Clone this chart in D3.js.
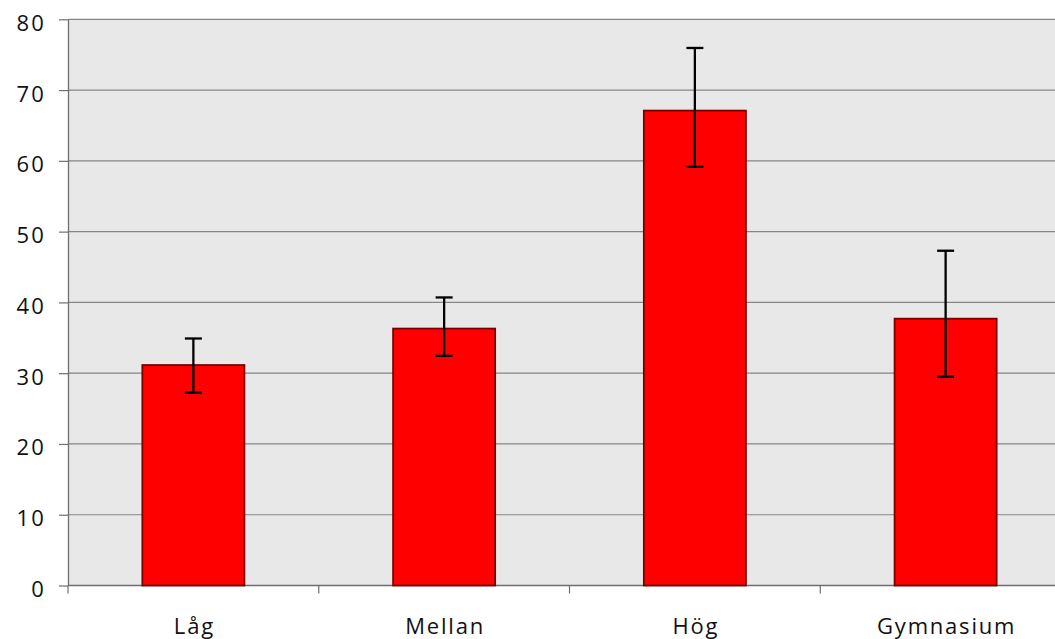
<!DOCTYPE html>
<html>
<head>
<meta charset="utf-8">
<script src="https://cdn.jsdelivr.net/npm/d3@7"></script>
<style>
    body { margin: 0; background: #fff; }
    .axis text { font-family: "Open Sans", sans-serif; fill: #111; }
    .y.axis text { font-size: 22px; letter-spacing: 2.2px; }
    .x.axis text { font-size: 22px; letter-spacing: 1.8px; }
</style>
</head>
<body>
<svg class="chart"></svg>
<script>
var categories = ["Låg", "Mellan", "Hög", "Gymnasium"];
var means = [31.15, 36.3, 67.1, 37.7];
var upper = [34.9, 40.7, 75.95, 47.3];
var lower = [27.25, 32.45, 59.15, 29.5];
var yTicks = [0, 10, 20, 30, 40, 50, 60, 70, 80];

initChart();

function initChart() {
    var outerSize = {width: 1055, height: 639};
    var plot = {left: 68, right: 1071, top: 19.3, bottom: 585.5};

    var chart = d3.select(".chart")
            .attr("width", outerSize.width)
            .attr("height", outerSize.height);

    var xRange = d3.scaleBand()
            .domain(categories)
            .range([plot.left, plot.right])
            .paddingInner(0.593)
            .paddingOuter(0.2965);
    var xTickRange = d3.scaleBand()
            .domain(categories)
            .range([plot.left, plot.right]);
    var yRange = d3.scaleLinear()
            .domain([0, 80])
            .range([plot.bottom, plot.top]);

    chart.append("rect")
            .attr("x", plot.left)
            .attr("y", plot.top)
            .attr("width", plot.right - plot.left)
            .attr("height", plot.bottom - plot.top)
            .attr("fill", "#e8e8e8");

    // gridlines
    chart.append("g")
            .selectAll("line")
            .data(yTicks.filter(function (t) { return t > 0; }))
            .enter().append("line")
            .attr("x1", plot.left)
            .attr("x2", plot.right)
            .attr("y1", function (t) { return yRange(t); })
            .attr("y2", function (t) { return yRange(t); })
            .attr("stroke", "#868686")
            .attr("stroke-width", 1.2);

    // y axis
    var yAxis = chart.append("g")
            .attr("class", "y axis")
            .attr("transform", "translate(" + plot.left + ",0)")
            .call(d3.axisLeft(yRange).tickValues(yTicks).tickSize(9).tickPadding(13).tickSizeOuter(0));
    yAxis.select(".domain").attr("stroke", "#6e6e6e").attr("stroke-width", 1.3);
    yAxis.selectAll(".tick line").attr("stroke", "#6e6e6e").attr("stroke-width", 1.2);
    yAxis.selectAll(".tick text").attr("dy", "0.32em").attr("y", 4);

    // x axis
    var xAxis = chart.append("g")
            .attr("class", "x axis")
            .attr("transform", "translate(0," + plot.bottom + ")");
    xAxis.append("line")
            .attr("x1", plot.left)
            .attr("x2", plot.right)
            .attr("stroke", "#6e6e6e")
            .attr("stroke-width", 1.3);
    xAxis.selectAll(".xtick")
            .data(categories)
            .enter().append("line")
            .attr("class", "xtick")
            .attr("x1", function (c) { return xTickRange(c); })
            .attr("x2", function (c) { return xTickRange(c); })
            .attr("y1", 0)
            .attr("y2", 8)
            .attr("stroke", "#6e6e6e")
            .attr("stroke-width", 1.2);
    xAxis.selectAll(".xlabel")
            .data(categories)
            .enter().append("text")
            .attr("class", "xlabel")
            .attr("x", function (c) { return xRange(c) + xRange.bandwidth() / 2 + 1; })
            .attr("y", 48.5)
            .style("text-anchor", "middle")
            .text(function (c) { return c; });

    // bars
    var bar = chart.selectAll(".bar")
            .data(categories)
            .enter().append("g")
            .attr("class", "bar");

    bar.append("rect")
            .attr("x", function (c) { return xRange(c); })
            .attr("width", xRange.bandwidth())
            .attr("y", function (c, i) { return yRange(means[i]); })
            .attr("height", function (c, i) { return plot.bottom - yRange(means[i]); })
            .attr("fill", "#ff0000")
            .attr("stroke", "#7a0000")
            .attr("stroke-width", 1.8);

    // error bars
    var cap = 8.5;
    bar.append("line")
            .attr("x1", function (c) { return xRange(c) + xRange.bandwidth() / 2; })
            .attr("x2", function (c) { return xRange(c) + xRange.bandwidth() / 2; })
            .attr("y1", function (c, i) { return yRange(upper[i]); })
            .attr("y2", function (c, i) { return yRange(lower[i]); })
            .attr("stroke", "#000")
            .attr("stroke-width", 2.3);
    [upper, lower].forEach(function (ends) {
        bar.append("line")
                .attr("x1", function (c) { return xRange(c) + xRange.bandwidth() / 2 - cap; })
                .attr("x2", function (c) { return xRange(c) + xRange.bandwidth() / 2 + cap; })
                .attr("y1", function (c, i) { return yRange(ends[i]); })
                .attr("y2", function (c, i) { return yRange(ends[i]); })
                .attr("stroke", "#000")
                .attr("stroke-width", 2.3);
    });
}
</script>
</body>
</html>
